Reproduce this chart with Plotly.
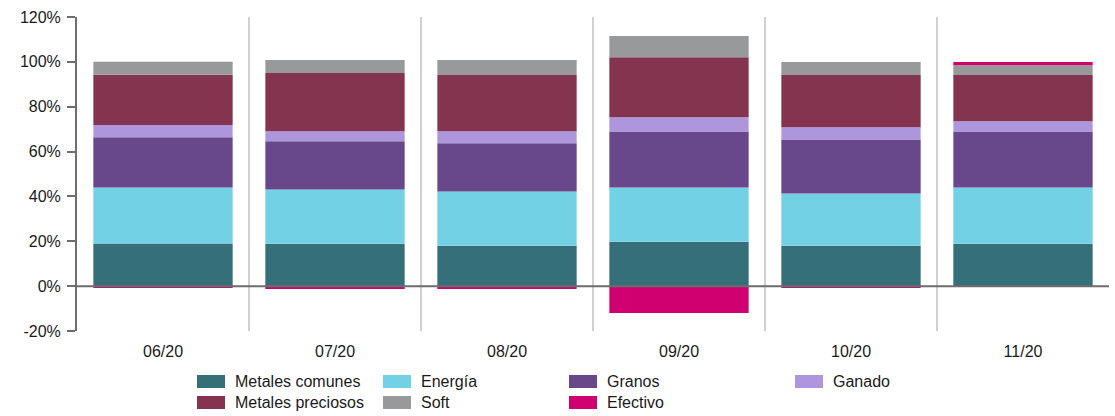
import plotly.graph_objects as go

categories = ["06/20", "07/20", "08/20", "09/20", "10/20", "11/20"]
metales_comunes = [19.0, 18.9, 18.0, 19.8, 18.0, 18.9]
energia = [25.0, 24.2, 24.2, 24.2, 23.3, 25.1]
granos = [22.4, 21.5, 21.5, 25.0, 24.1, 25.0]
ganado = [5.4, 4.5, 5.4, 6.3, 5.4, 4.5]
metales_preciosos = [22.4, 25.9, 25.0, 26.8, 23.3, 20.6]
soft = [5.8, 5.8, 6.7, 9.4, 5.8, 4.4]
efectivo = [-0.4, -1.3, -1.3, -12.0, -0.4, 1.4]

series_names = ["Metales comunes", "Energía", "Granos", "Ganado",
                "Metales preciosos", "Soft", "Efectivo"]
series_values = [metales_comunes, energia, granos, ganado,
                 metales_preciosos, soft, efectivo]
series_colors = ["#356f79", "#73d1e5", "#68478b", "#ad96dc",
                 "#84344f", "#98999a", "#cf0070"]

y_ticks = [-20, 0, 20, 40, 60, 80, 100, 120]

W, H = 1115, 416
ML, MR, MT, MB = 77, 6, 17, 85
PW, PH = W - ML - MR, H - MT - MB

fig = go.Figure()
for name, vals, col in zip(series_names, series_values, series_colors):
    fig.add_trace(go.Bar(x=categories, y=vals, name=name, marker=dict(color=col, line=dict(width=0)),
                         width=0.81, showlegend=False))

# manual legend (wide swatches like the reference)
legend_pos = [(197, 381.5), (383, 381.5), (569, 381.5), (795, 381.5),
              (197, 402.5), (383, 402.5), (569, 402.5)]
order = [0, 1, 2, 3, 4, 5, 6]
def px2x(p):
    return (p - ML) / PW
def py2y(p):
    return (H - MB - p) / PH

shapes = []
annotations = []
for i, (lx, ly) in zip(order, legend_pos):
    shapes.append(dict(type="rect", xref="paper", yref="paper",
                       x0=px2x(lx), x1=px2x(lx + 28), y0=py2y(ly + 6.5), y1=py2y(ly - 6.5),
                       fillcolor=series_colors[i], line=dict(width=0), layer="above"))
    annotations.append(dict(xref="paper", yref="paper", x=px2x(lx + 36), y=py2y(ly),
                            xanchor="left", yanchor="middle", text=series_names[i],
                            showarrow=False, font=dict(size=16, color="#1a1a1a")))

shapes.append(dict(type="line", xref="paper", yref="y", x0=0, x1=1, y0=0, y1=0,
                   line=dict(color="#6d6d6d", width=2), layer="above"))

fig.update_layout(
    width=W, height=H,
    margin=dict(l=ML, r=MR, t=MT, b=MB),
    barmode="relative",
    bargap=0.19,
    plot_bgcolor="white", paper_bgcolor="white",
    font=dict(family="Liberation Sans, Arial, sans-serif", size=16, color="#1a1a1a"),
    shapes=shapes, annotations=annotations,
    xaxis=dict(type="category", tickson="boundaries", showgrid=True, gridcolor="#d0d0d0",
               gridwidth=2, ticks="", showline=False, zeroline=False,
               tickfont=dict(size=16), ticklabelstandoff=9),
    yaxis=dict(range=[-20, 120], tickvals=y_ticks, ticktext=[f"{v}%" for v in y_ticks],
               showgrid=False, zeroline=False, showline=True, linecolor="#6d6d6d", linewidth=2,
               ticks="outside", ticklen=8, tickwidth=2, tickcolor="#6d6d6d",
               tickfont=dict(size=16), ticklabelstandoff=3),
)

fig.write_html("out.html")
